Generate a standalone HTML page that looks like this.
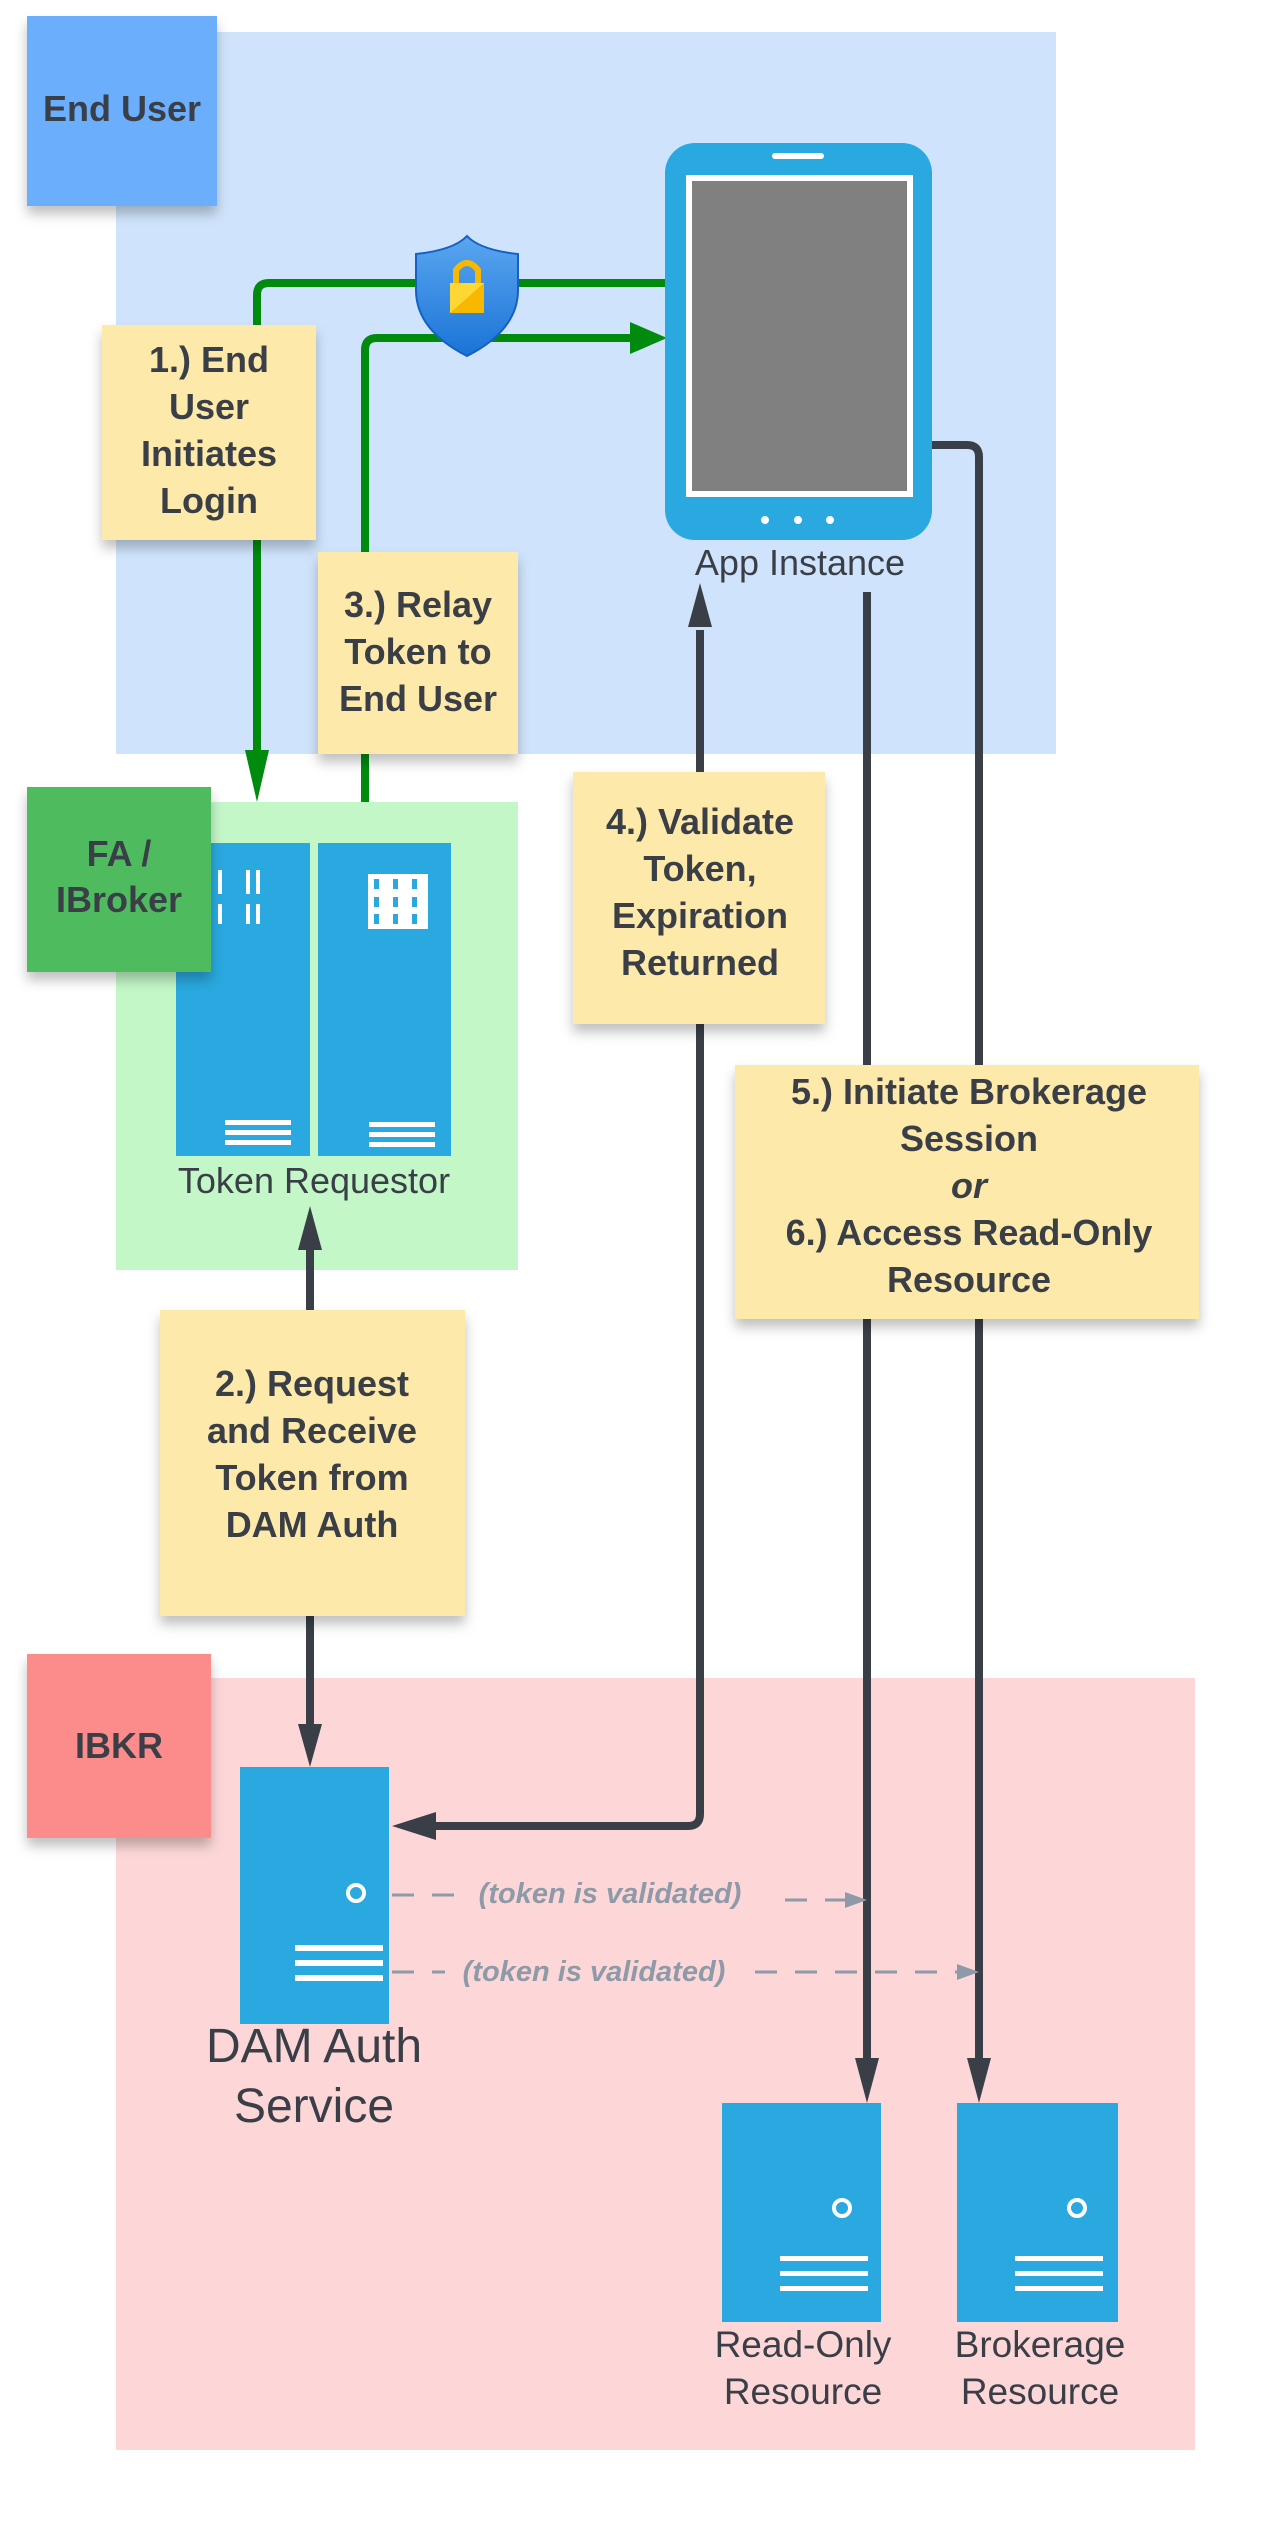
<!DOCTYPE html>
<html><head><meta charset="utf-8"><style>
html,body{margin:0;padding:0;background:#fff}
svg{display:block}
.st{font-family:"Liberation Sans",sans-serif;font-weight:bold;fill:#3a3f47;font-size:36px;text-anchor:middle}
.lb{font-family:"Liberation Sans",sans-serif;fill:#3a3f47;text-anchor:middle}
</style></head><body>
<svg width="1270" height="2536" viewBox="0 0 1270 2536" xmlns="http://www.w3.org/2000/svg">
<defs>
<filter id="sh" x="-20%" y="-20%" width="150%" height="150%"><feDropShadow dx="0" dy="8" stdDeviation="6" flood-color="#000" flood-opacity="0.25"/></filter>
<linearGradient id="sg" x1="0" y1="0" x2="0" y2="1"><stop offset="0" stop-color="#5aa6f0"/><stop offset="1" stop-color="#1a74d6"/></linearGradient>
</defs>
<!-- regions -->
<rect x="116" y="32" width="940" height="722" fill="#cfe4fc"/>
<rect x="116" y="802" width="402" height="468" fill="#c3f7c8"/>
<rect x="116" y="1678" width="1079" height="772" fill="#fdd7d8"/>

<!-- green connectors -->
<path d="M257,780 L257,295 Q257,283 269,283 L665,283" fill="none" stroke="#008a0e" stroke-width="8"/>
<polygon points="245,750 269,750 257,802" fill="#008a0e"/>
<path d="M365,802 L365,350 Q365,338 377,338 L635,338" fill="none" stroke="#008a0e" stroke-width="8"/>
<polygon points="630,322 630,354 667,338" fill="#008a0e"/>

<!-- shield -->
<path d="M467,236 Q480,250 518,254 L518,290 Q518,330 467,356 Q416,330 416,290 L416,254 Q454,250 467,236 Z" fill="url(#sg)" stroke="#1560c0" stroke-width="2"/>
<rect x="450" y="283" width="34" height="30" fill="#fdd835"/>
<polygon points="484,283 484,313 450,313" fill="#f9b800"/>
<path d="M456,283 L456,270 Q467,256 478,270 L478,283" fill="none" stroke="#f9b800" stroke-width="6"/>

<!-- phone -->
<rect x="665" y="143" width="267" height="397" rx="30" fill="#29a9e0"/>
<rect x="772" y="153" width="52" height="6" rx="3" fill="#fff"/>
<rect x="686" y="175" width="227" height="322" fill="#fff"/>
<rect x="692" y="181" width="215" height="310" fill="#808080"/>
<circle cx="765" cy="520" r="4" fill="#fff"/><circle cx="798" cy="520" r="4" fill="#fff"/><circle cx="830" cy="520" r="4" fill="#fff"/>
<text class="lb" x="800" y="575" font-size="36">App Instance</text>

<!-- dark connectors -->
<g stroke="#3a3f47" stroke-width="8" fill="none">
<path d="M310,1310 L310,1240"/>
<path d="M310,1616 L310,1730"/>
<path d="M700,630 L700,1814 Q700,1826 688,1826 L430,1826"/>
<path d="M867,592 L867,2060"/>
<path d="M932,445 L967,445 Q979,445 979,457 L979,2060"/>
</g>
<g fill="#3a3f47">
<polygon points="298,1250 322,1250 310,1206"/>
<polygon points="298,1724 322,1724 310,1767"/>
<polygon points="688,627 712,627 700,583"/>
<polygon points="436,1812 436,1840 392,1826"/>
<polygon points="855,2058 879,2058 867,2103"/>
<polygon points="967,2058 991,2058 979,2103"/>
</g>

<!-- token requestor servers -->
<rect x="176" y="843" width="134" height="313" fill="#29a9e0"/>
<rect x="318" y="843" width="133" height="313" fill="#29a9e0"/>
<g fill="#fff">
<rect x="218" y="870" width="4" height="24"/><rect x="246" y="870" width="4" height="24"/><rect x="256" y="870" width="4" height="24"/>
<rect x="218" y="904" width="4" height="20"/><rect x="246" y="904" width="4" height="20"/><rect x="256" y="904" width="4" height="20"/>
<rect x="225" y="1120" width="66" height="5"/><rect x="225" y="1130" width="66" height="5"/><rect x="225" y="1140" width="66" height="5"/>
<rect x="368" y="874" width="60" height="55"/>
<rect x="369" y="1122" width="66" height="5"/><rect x="369" y="1132" width="66" height="5"/><rect x="369" y="1142" width="66" height="5"/>
</g>
<g fill="#29a9e0">
<rect x="374" y="879" width="5" height="10"/><rect x="393" y="879" width="5" height="10"/><rect x="412" y="879" width="5" height="10"/>
<rect x="374" y="897" width="5" height="10"/><rect x="393" y="897" width="5" height="10"/><rect x="412" y="897" width="5" height="10"/>
<rect x="374" y="914" width="5" height="10"/><rect x="393" y="914" width="5" height="10"/><rect x="412" y="914" width="5" height="10"/>
</g>
<text class="lb" x="314" y="1193" font-size="36">Token Requestor</text>

<!-- DAM server -->
<rect x="240" y="1767" width="149" height="257" fill="#29a9e0"/>
<circle cx="356" cy="1893" r="8" fill="none" stroke="#fff" stroke-width="4"/>
<rect x="295" y="1945" width="88" height="6" fill="#fff"/><rect x="295" y="1960" width="88" height="6" fill="#fff"/><rect x="295" y="1975" width="88" height="6" fill="#fff"/>
<text class="lb" x="314" y="2062" font-size="48">DAM Auth</text>
<text class="lb" x="314" y="2122" font-size="48">Service</text>

<!-- resource servers -->
<rect x="722" y="2103" width="159" height="219" fill="#29a9e0"/>
<circle cx="842" cy="2208" r="8" fill="none" stroke="#fff" stroke-width="4"/>
<rect x="780" y="2256" width="88" height="5" fill="#fff"/><rect x="780" y="2271" width="88" height="5" fill="#fff"/><rect x="780" y="2286" width="88" height="5" fill="#fff"/>
<rect x="957" y="2103" width="161" height="219" fill="#29a9e0"/>
<circle cx="1077" cy="2208" r="8" fill="none" stroke="#fff" stroke-width="4"/>
<rect x="1015" y="2256" width="88" height="5" fill="#fff"/><rect x="1015" y="2271" width="88" height="5" fill="#fff"/><rect x="1015" y="2286" width="88" height="5" fill="#fff"/>
<text class="lb" x="803" y="2357" font-size="37">Read-Only</text>
<text class="lb" x="803" y="2404" font-size="37">Resource</text>
<text class="lb" x="1040" y="2357" font-size="37">Brokerage</text>
<text class="lb" x="1040" y="2404" font-size="37">Resource</text>

<!-- dashed -->
<g stroke="#8e9aa8" stroke-width="3" stroke-dasharray="22,18" fill="none">
<path d="M392,1895 L455,1895"/><path d="M785,1900 L855,1900"/>
<path d="M392,1972 L445,1972"/><path d="M755,1972 L960,1972"/>
</g>
<polygon points="845,1892 845,1908 867,1900" fill="#8e9aa8"/>
<polygon points="957,1964 957,1980 979,1972" fill="#8e9aa8"/>
<text x="610" y="1903" font-family="Liberation Sans,sans-serif" font-size="29" font-style="italic" font-weight="bold" fill="#8e9aa8" text-anchor="middle">(token is validated)</text>
<text x="594" y="1981" font-family="Liberation Sans,sans-serif" font-size="29" font-style="italic" font-weight="bold" fill="#8e9aa8" text-anchor="middle">(token is validated)</text>

<!-- stickies -->
<g filter="url(#sh)">
<rect x="27" y="16" width="190" height="190" fill="#6aaefc"/>
<rect x="27" y="787" width="184" height="185" fill="#4fbb5e"/>
<rect x="27" y="1654" width="184" height="184" fill="#fc8b8b"/>
<rect x="102" y="325" width="214" height="215" fill="#fde9a9"/>
<rect x="318" y="552" width="200" height="202" fill="#fde9a9"/>
<rect x="160" y="1310" width="305" height="306" fill="#fde9a9"/>
<rect x="573" y="772" width="252" height="252" fill="#fde9a9"/>
<rect x="735" y="1065" width="464" height="254" fill="#fde9a9"/>
</g>
<text class="st" x="122" y="121">End User</text>
<text class="st" x="119" y="866">FA /</text>
<text class="st" x="119" y="912">IBroker</text>
<text class="st" x="119" y="1758">IBKR</text>
<g class="st">
<text class="st" x="209" y="372">1.) End</text>
<text class="st" x="209" y="419">User</text>
<text class="st" x="209" y="466">Initiates</text>
<text class="st" x="209" y="513">Login</text>
<text class="st" x="418" y="617">3.) Relay</text>
<text class="st" x="418" y="664">Token to</text>
<text class="st" x="418" y="711">End User</text>
<text class="st" x="312" y="1396">2.) Request</text>
<text class="st" x="312" y="1443">and Receive</text>
<text class="st" x="312" y="1490">Token from</text>
<text class="st" x="312" y="1537">DAM Auth</text>
<text class="st" x="700" y="834">4.) Validate</text>
<text class="st" x="700" y="881">Token,</text>
<text class="st" x="700" y="928">Expiration</text>
<text class="st" x="700" y="975">Returned</text>
<text class="st" x="969" y="1104">5.) Initiate Brokerage</text>
<text class="st" x="969" y="1151">Session</text>
<text x="969" y="1198" font-family="Liberation Sans,sans-serif" font-style="italic" font-size="36" fill="#3a3f47" text-anchor="middle">or</text>
<text class="st" x="969" y="1245">6.) Access Read-Only</text>
<text class="st" x="969" y="1292">Resource</text>
</g>
</svg>
</body></html>
